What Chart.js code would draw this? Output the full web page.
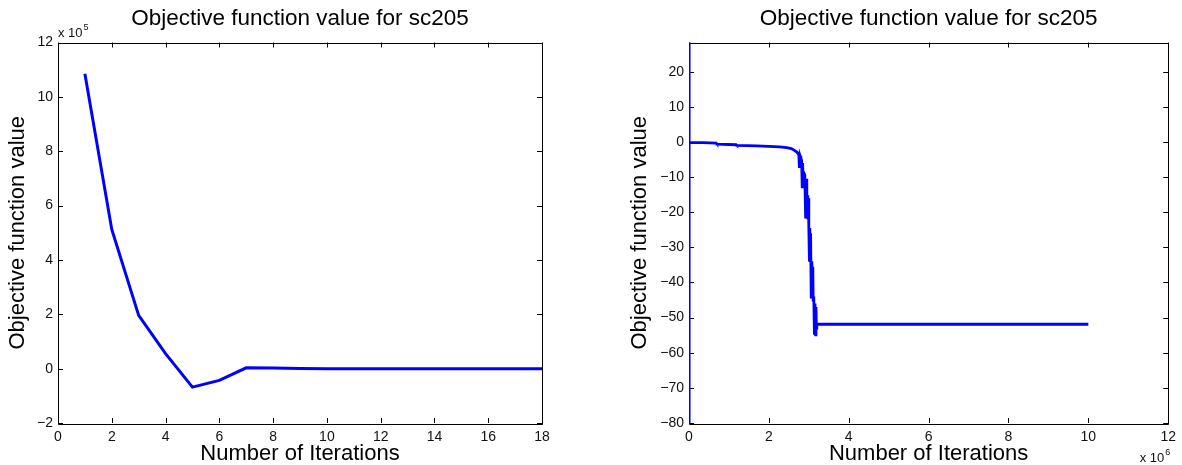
<!DOCTYPE html>
<html>
<head>
<meta charset="utf-8">
<title>Objective function value for sc205</title>
<script src="https://cdn.jsdelivr.net/npm/chart.js@4.4.1/dist/chart.umd.min.js"></script>
<style>
    html, body { margin: 0; padding: 0; background: #fff; }
    #wrap { position: relative; width: 1182px; height: 465px; overflow: hidden; }
    .pane { position: absolute; top: 0; height: 465px; }
    #paneLeft { left: 0; width: 590px; }
    #paneRight { left: 590px; width: 592px; }
</style>
</head>
<body>
<div id="wrap">
    <div class="pane" id="paneLeft"><canvas id="objectiveShort"></canvas></div>
    <div class="pane" id="paneRight"><canvas id="objectiveLong"></canvas></div>
</div>
<script>
"use strict";

// first run: 18 iterations
var shortIterations = [1, 2, 3, 4, 5, 6, 7, 8, 9, 10, 11, 12, 13, 14, 15, 16, 17, 18];
var shortObjective = [1085000, 512000, 196000, 55000, -68000, -43000, 3000, 2000, 500, 0, 0, 0, 0, 0, 0, 0, 0, 0];
var shortTicksX = [0, 2, 4, 6, 8, 10, 12, 14, 16, 18];
var shortTicksY = [-200000, 0, 200000, 400000, 600000, 800000, 1000000, 1200000];

// second run: 10 million iterations
var longIterations = [0, 1500, 6000, 350000, 680000, 700000, 1180000, 1200000, 1700000, 2270000,
    2450000, 2560000, 2640000, 2700000, 2750000, 2765000, 2780000, 2800000, 2820000, 2835000,
    2845000, 2860000, 2875000, 2900000, 2920000, 2935000, 2950000, 2960000, 2975000, 2990000,
    3000000, 3015000, 3025000, 3035000, 3045000, 3060000, 3075000, 3090000, 3100000, 3110000,
    3125000, 3140000, 3155000, 3170000, 3180000, 3190000, 3200000, 10000000];
var longObjective = [400, -300, -0.1, -0.2, -0.35, -0.6, -0.8, -1.0, -1.15, -1.4,
    -1.6, -1.9, -2.4, -2.9, -3.6, -7.4, -3.9, -4.6, -5.2, -12.8,
    -6.0, -12.0, -8.8, -9.4, -21.8, -10.5, -21.0, -15.2, -22.0, -16.0,
    -23.9, -33.6, -24.5, -33.8, -26.0, -44.2, -34.0, -43.0, -35.5, -45.0,
    -44.0, -54.5, -46.0, -54.9, -47.0, -53.0, -51.9, -51.9];
var longTicksX = [0, 2000000, 4000000, 6000000, 8000000, 10000000, 12000000];
var longTicksY = [-80, -70, -60, -50, -40, -30, -20, -10, 0, 10, 20];

var fontFamily = '"Liberation Sans", Arial, Helvetica, sans-serif';
Chart.defaults.font.family = fontFamily;
Chart.defaults.color = '#111';
Chart.defaults.animation = false;

function minusSign(v) {
    return String(v).replace('-', '\u2212');
}

// box round the plot, inward ticks on all four sides, and the "x 10^n" scale note
var matlabBox = {
    id: 'matlabBox',
    beforeDatasetsDraw: function (chart) {
        var a = chart.chartArea, ctx = chart.ctx, xs = chart.scales.x, ys = chart.scales.y, len = 5;
        ctx.save();
        ctx.strokeStyle = '#000';
        ctx.lineWidth = 1;
        ctx.beginPath();
        xs.ticks.forEach(function (t) {
            var px = Math.round(xs.getPixelForValue(t.value)) + 0.5;
            ctx.moveTo(px, a.bottom); ctx.lineTo(px, a.bottom - len);
            ctx.moveTo(px, a.top); ctx.lineTo(px, a.top + len);
        });
        ys.ticks.forEach(function (t) {
            var py = Math.round(ys.getPixelForValue(t.value)) + 0.5;
            ctx.moveTo(a.left, py); ctx.lineTo(a.left + len, py);
            ctx.moveTo(a.right, py); ctx.lineTo(a.right - len, py);
        });
        ctx.rect(Math.round(a.left) + 0.5, Math.round(a.top) + 0.5,
            Math.round(a.right - a.left), Math.round(a.bottom - a.top));
        ctx.stroke();
        ctx.restore();
    },
    afterDraw: function (chart, args, opts) {
        if (!opts.exponent) return;
        var a = chart.chartArea, ctx = chart.ctx;
        ctx.save();
        ctx.fillStyle = '#111';
        ctx.textBaseline = 'alphabetic';
        ctx.textAlign = 'left';
        ctx.font = '13px ' + fontFamily;
        var base = 'x 10', w1 = ctx.measureText(base).width;
        ctx.font = '9px ' + fontFamily;
        var w2 = ctx.measureText(opts.exponent).width;
        var x0, y0;
        if (opts.at === 'top') {
            x0 = a.left;
            y0 = a.top - 6;
        } else {
            x0 = a.right + 1 - w1 - w2;
            y0 = a.bottom + 39;
        }
        ctx.font = '13px ' + fontFamily;
        ctx.fillText(base, x0, y0);
        ctx.font = '9px ' + fontFamily;
        ctx.fillText(opts.exponent, x0 + w1 + 1, y0 - 7);
        ctx.restore();
    }
};

function toPoints(xs, ys) {
    return xs.map(function (x, i) { return { x: x, y: ys[i] }; });
}

function axisTitle(text, pad) {
    return {
        display: true,
        text: text,
        color: '#000',
        font: { size: 22, lineHeight: 1 },
        padding: pad
    };
}

var shortChart = new Chart(document.getElementById('objectiveShort'), {
    type: 'line',
    data: {
        datasets: [{
            data: toPoints(shortIterations, shortObjective),
            borderColor: '#0000ff',
            borderWidth: 3,
            pointRadius: 0,
            tension: 0
        }]
    },
    options: {
        responsive: true,
        maintainAspectRatio: false,
        layout: { padding: { left: 0, right: 48, top: 0, bottom: 0 } },
        plugins: {
            legend: { display: false },
            tooltip: { enabled: false },
            title: {
                display: true,
                fullSize: false,
                text: 'Objective function value for sc205',
                color: '#000',
                font: { size: 22.5, weight: 'normal', lineHeight: 1 },
                padding: { top: 8, bottom: 12 }
            },
            matlabBox: { exponent: '5', at: 'top' }
        },
        scales: {
            x: {
                type: 'linear',
                min: 0,
                max: 18,
                grid: { display: false, drawTicks: false },
                border: { display: false },
                afterBuildTicks: function (scale) {
                    scale.ticks = shortTicksX.map(function (v) { return { value: v }; });
                },
                afterFit: function (scale) { scale.height = 42; },
                ticks: {
                    autoSkip: false,
                    maxRotation: 0,
                    padding: 6,
                    font: { size: 14 },
                    callback: function (value) { return minusSign(value); }
                },
                title: axisTitle('Number of Iterations', { top: 0, bottom: 0 })
            },
            y: {
                type: 'linear',
                min: -200000,
                max: 1200000,
                grid: { display: false, drawTicks: false },
                border: { display: false },
                afterBuildTicks: function (scale) {
                    scale.ticks = shortTicksY.map(function (v) { return { value: v }; });
                },
                afterFit: function (scale) { scale.width = 58; },
                ticks: {
                    autoSkip: false,
                    padding: 5,
                    font: { size: 14 },
                    callback: function (value) { return minusSign(value / 100000); }
                },
                title: axisTitle('Objective function value', { top: 7, bottom: 0 })
            }
        }
    },
    plugins: [matlabBox]
});

var longChart = new Chart(document.getElementById('objectiveLong'), {
    type: 'line',
    data: {
        datasets: [{
            data: toPoints(longIterations, longObjective),
            borderColor: '#0000ff',
            borderWidth: 2.8,
            pointRadius: 0,
            tension: 0
        }]
    },
    options: {
        responsive: true,
        maintainAspectRatio: false,
        layout: { padding: { left: 0, right: 11, top: 0, bottom: 0 } },
        plugins: {
            legend: { display: false },
            tooltip: { enabled: false },
            title: {
                display: true,
                fullSize: false,
                text: 'Objective function value for sc205',
                color: '#000',
                font: { size: 22.5, weight: 'normal', lineHeight: 1 },
                padding: { top: 8, bottom: 12 }
            },
            matlabBox: { exponent: '6', at: 'bottom' }
        },
        scales: {
            x: {
                type: 'linear',
                min: 0,
                max: 12000000,
                grid: { display: false, drawTicks: false },
                border: { display: false },
                afterBuildTicks: function (scale) {
                    scale.ticks = longTicksX.map(function (v) { return { value: v }; });
                },
                afterFit: function (scale) { scale.height = 42; },
                ticks: {
                    autoSkip: false,
                    maxRotation: 0,
                    padding: 6,
                    font: { size: 14 },
                    callback: function (value) { return minusSign(value / 1000000); }
                },
                title: axisTitle('Number of Iterations', { top: 0, bottom: 0 })
            },
            y: {
                type: 'linear',
                min: -80,
                max: 28.3,
                grid: { display: false, drawTicks: false },
                border: { display: false },
                afterBuildTicks: function (scale) {
                    scale.ticks = longTicksY.map(function (v) { return { value: v }; });
                },
                afterFit: function (scale) { scale.width = 99; },
                ticks: {
                    autoSkip: false,
                    padding: 5,
                    font: { size: 14 },
                    callback: function (value) { return minusSign(value); }
                },
                title: axisTitle('Objective function value', { top: 39, bottom: 0 })
            }
        }
    },
    plugins: [matlabBox]
});
</script>
</body>
</html>
